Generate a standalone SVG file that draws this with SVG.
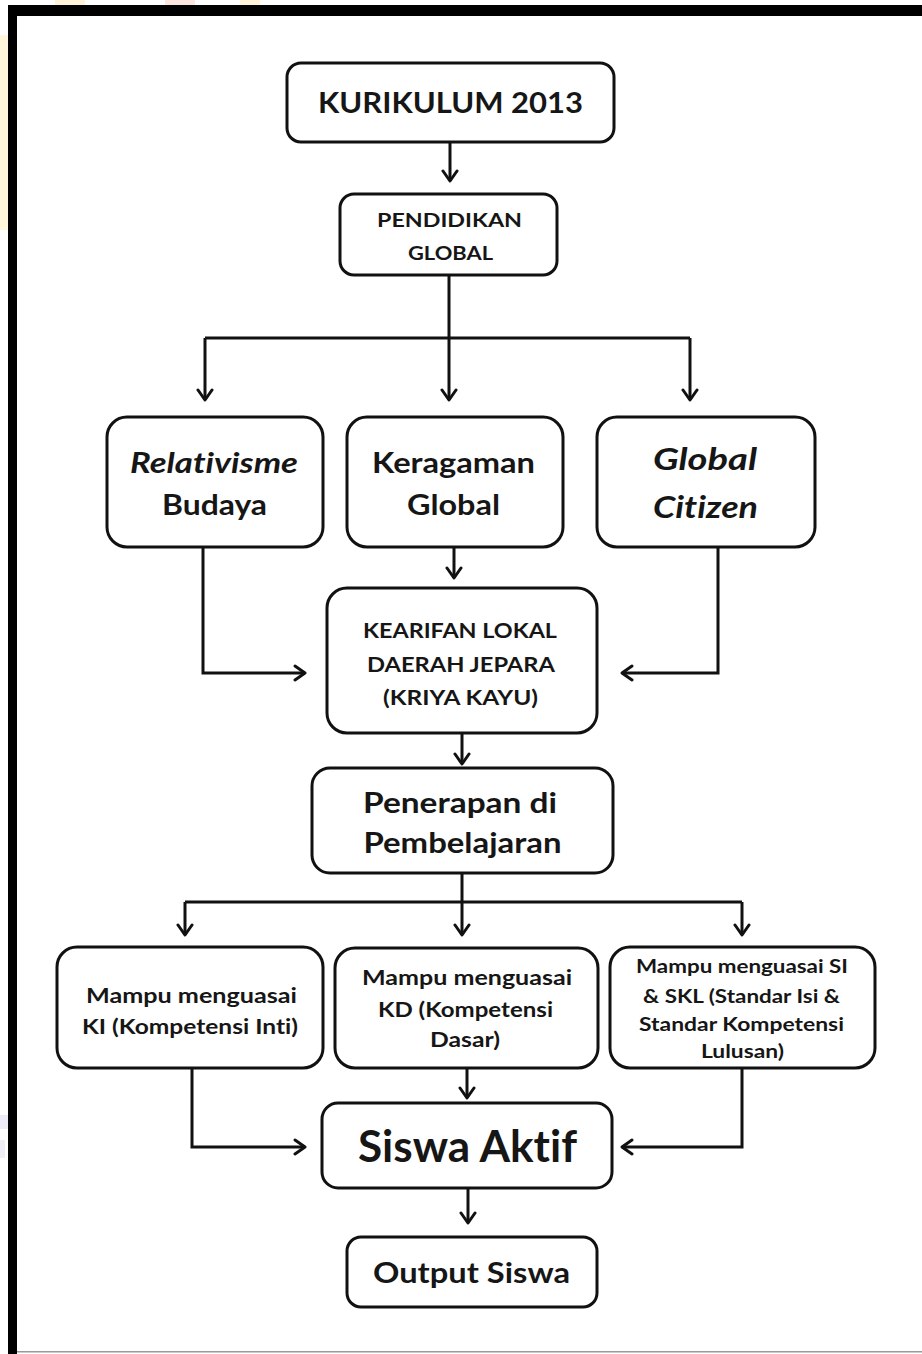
<svg xmlns="http://www.w3.org/2000/svg" width="922" height="1354" viewBox="0 0 922 1354">
<defs>
<marker id="arr" markerUnits="userSpaceOnUse" viewBox="0 0 14 18" markerWidth="14" markerHeight="18" refX="12" refY="9" orient="auto">
<path d="M2,2 L12,9 L2,16" fill="none" stroke="#111" stroke-width="3" stroke-linecap="round" stroke-linejoin="round"/>
</marker>
</defs>
<style>
.box{fill:#fff;stroke:#111;stroke-width:3}
.t{font-family:Lato,"Liberation Sans",sans-serif;font-weight:700;fill:#161616;text-anchor:middle;font-variant-ligatures:none}
.i{font-style:italic}
.c{fill:none;stroke:#111;stroke-width:3}
.a{marker-end:url(#arr)}
</style>
<rect width="922" height="1354" fill="#fff"/>
<rect x="0" y="35" width="8" height="195" fill="#fff6dc"/>
<rect x="0" y="1115" width="8" height="14" fill="#ececf6"/>
<rect x="0" y="1140" width="5" height="18" fill="#eeeef6"/>
<rect x="55" y="0" width="30" height="5" fill="#fff3d8"/>
<rect x="165" y="0" width="30" height="5" fill="#fde5e0"/>
<rect x="240" y="0" width="20" height="5" fill="#fff3d8"/>
<g id="frame">
<rect x="8" y="5" width="914" height="11" fill="#000"/>
<rect x="8" y="5" width="9" height="1349" fill="#000"/>
<rect x="17" y="1351" width="905" height="1.5" fill="#9a9a9a"/>
</g>
<g id="connectors">
<path class="c a" d="M450,142 V181"/>
<path class="c a" d="M449,275 V400"/>
<path class="c" d="M205,338 H690"/>
<path class="c a" d="M205,338 V400"/>
<path class="c a" d="M690,338 V400"/>
<path class="c a" d="M454,547 V578"/>
<path class="c a" d="M203,547 V673 H305"/>
<path class="c a" d="M718,547 V673 H622"/>
<path class="c a" d="M462,733 V764"/>
<path class="c a" d="M462,873 V935"/>
<path class="c" d="M185,902 H742"/>
<path class="c a" d="M185,902 V935"/>
<path class="c a" d="M742,902 V935"/>
<path class="c a" d="M192,1068 V1147 H305"/>
<path class="c a" d="M742,1068 V1147 H622"/>
<path class="c a" d="M467,1068 V1098"/>
<path class="c a" d="M468,1188 V1223"/>
</g>
<g id="kurikulum">
<rect class="box" x="287" y="63" width="327" height="79" rx="14"/>
<text class="t" x="450.5" y="113" font-size="28" textLength="265" lengthAdjust="spacingAndGlyphs">KURIKULUM 2013</text>
</g>
<g id="pendidikan">
<rect class="box" x="340" y="194" width="217" height="81" rx="14"/>
<text class="t" x="449.5" y="227" font-size="19.5" textLength="145" lengthAdjust="spacingAndGlyphs">PENDIDIKAN</text>
<text class="t" x="450.5" y="260" font-size="19.5" textLength="85" lengthAdjust="spacingAndGlyphs">GLOBAL</text>
</g>
<g id="relativisme">
<rect class="box" x="107" y="417" width="216" height="130" rx="20"/>
<text class="t i" x="214" y="473" font-size="29" textLength="168" lengthAdjust="spacingAndGlyphs">Relativisme</text>
<text class="t" x="214.5" y="515" font-size="29" textLength="105" lengthAdjust="spacingAndGlyphs">Budaya</text>
</g>
<g id="keragaman">
<rect class="box" x="347" y="417" width="216" height="130" rx="20"/>
<text class="t" x="453.5" y="473" font-size="29" textLength="163" lengthAdjust="spacingAndGlyphs">Keragaman</text>
<text class="t" x="453.5" y="515" font-size="29" textLength="93" lengthAdjust="spacingAndGlyphs">Global</text>
</g>
<g id="globalcitizen">
<rect class="box" x="597" y="417" width="218" height="130" rx="20"/>
<text class="t i" x="705" y="470" font-size="31" textLength="104" lengthAdjust="spacingAndGlyphs">Global</text>
<text class="t i" x="705.5" y="518" font-size="31" textLength="105" lengthAdjust="spacingAndGlyphs">Citizen</text>
</g>
<g id="kearifan">
<rect class="box" x="327" y="588" width="270" height="145" rx="20"/>
<text class="t" x="460" y="638" font-size="21" textLength="194" lengthAdjust="spacingAndGlyphs">KEARIFAN LOKAL</text>
<text class="t" x="461" y="672" font-size="21" textLength="188" lengthAdjust="spacingAndGlyphs">DAERAH  JEPARA</text>
<text class="t" x="460.5" y="705" font-size="21" textLength="155" lengthAdjust="spacingAndGlyphs">(KRIYA KAYU)</text>
</g>
<g id="penerapan">
<rect class="box" x="312" y="768" width="301" height="105" rx="18"/>
<text class="t" x="460" y="813" font-size="28" textLength="194" lengthAdjust="spacingAndGlyphs">Penerapan di</text>
<text class="t" x="462.5" y="853" font-size="28" textLength="198" lengthAdjust="spacingAndGlyphs">Pembelajaran</text>
</g>
<g id="ki">
<rect class="box" x="57" y="947" width="266" height="121" rx="20"/>
<text class="t" x="191.5" y="1003" font-size="20" textLength="211" lengthAdjust="spacingAndGlyphs">Mampu menguasai</text>
<text class="t" x="190" y="1034" font-size="20" textLength="216" lengthAdjust="spacingAndGlyphs">KI (Kompetensi Inti)</text>
</g>
<g id="kd">
<rect class="box" x="335" y="948" width="263" height="120" rx="20"/>
<text class="t" x="467" y="985" font-size="20" textLength="210" lengthAdjust="spacingAndGlyphs">Mampu menguasai</text>
<text class="t" x="465.5" y="1017" font-size="20" textLength="175" lengthAdjust="spacingAndGlyphs">KD (Kompetensi</text>
<text class="t" x="465" y="1047" font-size="20" textLength="70" lengthAdjust="spacingAndGlyphs">Dasar)</text>
</g>
<g id="si">
<rect class="box" x="610" y="947" width="265" height="121" rx="20"/>
<text class="t" x="742" y="973" font-size="18" textLength="212" lengthAdjust="spacingAndGlyphs">Mampu menguasai SI</text>
<text class="t" x="741.5" y="1003" font-size="18" textLength="197" lengthAdjust="spacingAndGlyphs">&amp; SKL (Standar Isi &amp;</text>
<text class="t" x="741.5" y="1031" font-size="18" textLength="205" lengthAdjust="spacingAndGlyphs">Standar Kompetensi</text>
<text class="t" x="742.5" y="1058" font-size="18" textLength="83" lengthAdjust="spacingAndGlyphs">Lulusan)</text>
</g>
<g id="siswaaktif">
<rect class="box" x="322" y="1103" width="290" height="85" rx="16"/>
<text class="t" x="467.5" y="1162" font-size="44" textLength="219" lengthAdjust="spacingAndGlyphs">Siswa Aktif</text>
</g>
<g id="output">
<rect class="box" x="347" y="1237" width="250" height="70" rx="14"/>
<text class="t" x="471.5" y="1283" font-size="28" textLength="197" lengthAdjust="spacingAndGlyphs">Output Siswa</text>
</g>
</svg>
